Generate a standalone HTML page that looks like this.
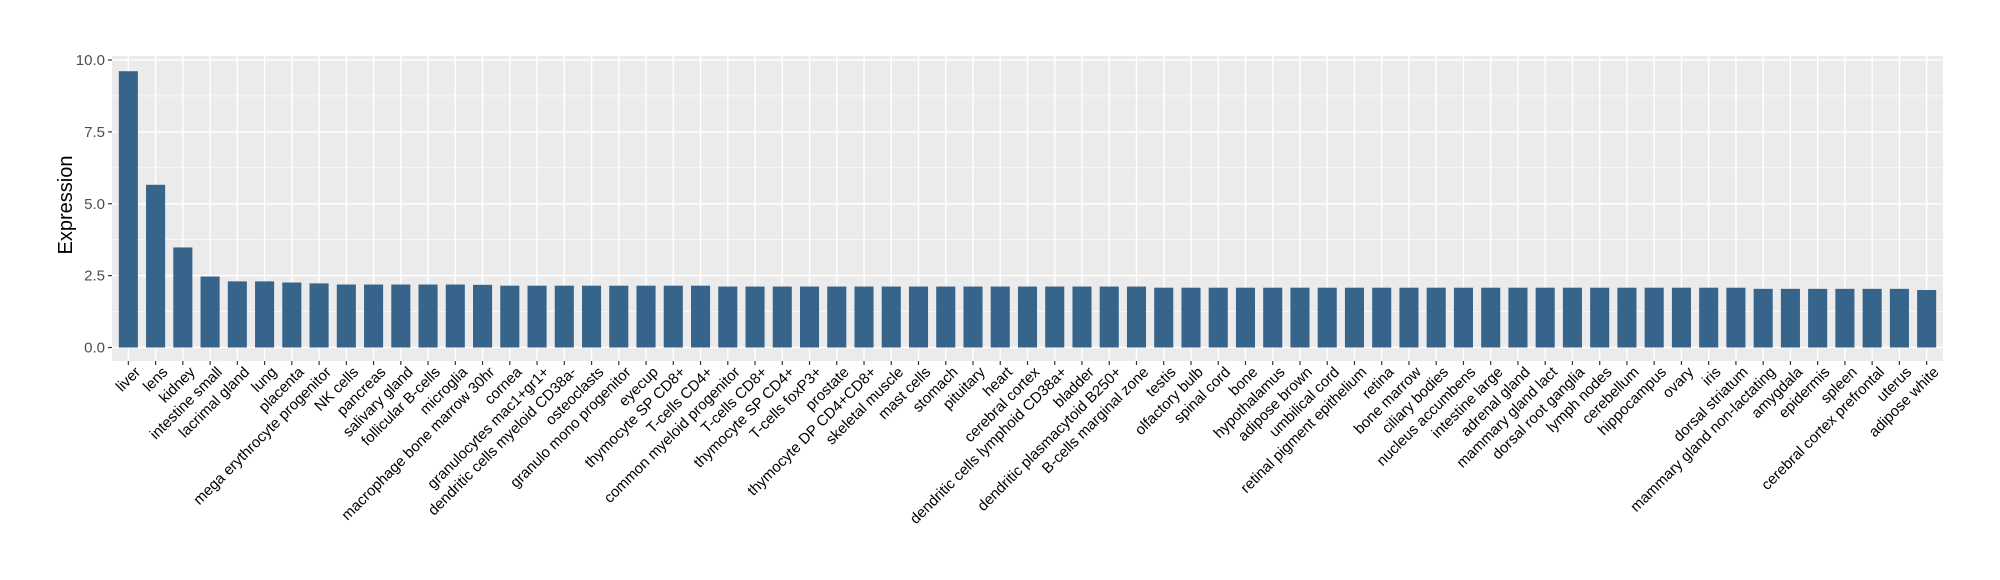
<!DOCTYPE html>
<html><head><meta charset="utf-8"><style>
html,body{margin:0;padding:0;background:#fff;}
svg{display:block;font-family:"Liberation Sans",Arial,sans-serif;}
</style></head><body>
<svg id="chart" width="2000" height="580" xmlns="http://www.w3.org/2000/svg">
<rect x="0" y="0" width="2000" height="580" fill="#fff"/>
<g id="plot"></g>
<text transform="translate(72,205) rotate(-90)" text-anchor="middle" font-size="20" fill="#000">Expression</text>
</svg>
<script>
const categories = ["liver","lens","kidney","intestine small","lacrimal gland","lung","placenta","mega erythrocyte progenitor","NK cells","pancreas","salivary gland","follicular B-cells","microglia","macrophage bone marrow 30hr","cornea","granulocytes mac1+gr1+","dendritic cells myeloid CD38a-","osteoclasts","granulo mono progenitor","eyecup","thymocyte SP CD8+","T-cells CD4+","common myeloid progenitor","T-cells CD8+","thymocyte SP CD4+","T-cells foxP3+","prostate","thymocyte DP CD4+CD8+","skeletal muscle","mast cells","stomach","pituitary","heart","cerebral cortex","dendritic cells lymphoid CD38a+","bladder","dendritic plasmacytoid B250+","B-cells marginal zone","testis","olfactory bulb","spinal cord","bone","hypothalamus","adipose brown","umbilical cord","retinal pigment epithelium","retina","bone marrow","ciliary bodies","nucleus accumbens","intestine large","adrenal gland","mammary gland  lact","dorsal root ganglia","lymph nodes","cerebellum","hippocampus","ovary","iris","dorsal striatum","mammary gland non-lactating","amygdala","epidermis","spleen","cerebral cortex prefrontal","uterus","adipose white"];
const values = [9.61,5.66,3.48,2.47,2.30,2.30,2.26,2.23,2.19,2.19,2.19,2.19,2.19,2.18,2.15,2.15,2.15,2.15,2.15,2.15,2.15,2.15,2.12,2.12,2.12,2.12,2.12,2.12,2.12,2.12,2.12,2.12,2.12,2.12,2.12,2.12,2.12,2.12,2.08,2.08,2.08,2.08,2.08,2.08,2.08,2.08,2.08,2.08,2.08,2.08,2.08,2.08,2.08,2.08,2.08,2.08,2.08,2.08,2.08,2.08,2.04,2.04,2.04,2.04,2.04,2.04,2.00];
const yTicks = [0,2.5,5,7.5,10];
const yTickLabels = ["0.0","2.5","5.0","7.5","10.0"];

const NS="http://www.w3.org/2000/svg";
const g=document.getElementById('plot');
const L=112,R=1943,T=56,B=361;
const y0=347.5, y10=60;
function yScale(v){return y0-(y0-y10)*v/10;}
const n=categories.length;
const step=(R-L)/(n-1+1.2);
function xScale(i){return L+step*(0.6+i);}
function mk(tag,attrs){const e=document.createElementNS(NS,tag);for(const k in attrs)e.setAttribute(k,attrs[k]);g.appendChild(e);return e;}

const panel=mk('rect',{x:L,y:T,width:R-L,height:B-T,fill:'#EBEBEB'});


// minor y grid
for(let i=0;i<yTicks.length-1;i++){
  const v=(yTicks[i]+yTicks[i+1])/2;
  const l=mk('line',{x1:L,x2:R,y1:yScale(v),y2:yScale(v),stroke:'#fff','stroke-width':0.7});
  
  
}
yTicks.forEach((v,i)=>{
  const y=yScale(v);
  const l=mk('line',{x1:L,x2:R,y1:y,y2:y,stroke:'#fff','stroke-width':1.4});
  
  
  const t=mk('line',{x1:L-4,x2:L,y1:y,y2:y,stroke:'#333','stroke-width':1.2});
  
  
  const tx=mk('text',{x:L-7,y:y+5,'text-anchor':'end','font-size':15,fill:'#4D4D4D'});
  tx.textContent=yTickLabels[i];
  
  
});
categories.forEach((c,i)=>{
  const x=xScale(i);
  const l=mk('line',{x1:x,x2:x,y1:T,y2:B,stroke:'#fff','stroke-width':1.4});
  
  
});
categories.forEach((c,i)=>{
  const x=xScale(i);
  const w=step*0.7;
  const r=mk('rect',{x:x-w/2,y:yScale(values[i]),width:w,height:y0-yScale(values[i]),fill:'#36648B'});
  
  
  const t=mk('line',{x1:x,x2:x,y1:B,y2:B+4,stroke:'#333','stroke-width':1.2});
  
  
  const tx=mk('text',{transform:'translate('+(x+5)+','+(B+4)+') rotate(-45)','text-anchor':'end',dy:'0.75em','font-size':15,fill:'#000'});
  tx.textContent=c;
  
  
});
</script>
</body></html>
